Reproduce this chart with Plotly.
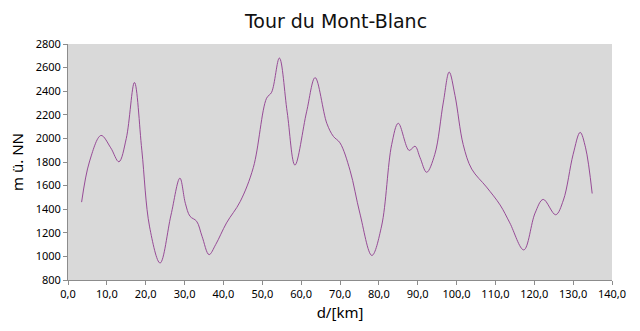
import plotly.graph_objects as go

# distance [km]
dist = [3.5, 5.5, 8.5, 11.0, 13.1, 15.0, 17.1, 19.0, 21.0, 23.7, 26.5, 28.8, 30.2, 31.4, 33.1, 34.5,
        36.3, 38.0, 40.8, 44.3, 47.7, 51.1, 52.4, 54.4, 56.4, 58.4, 61.4, 63.6, 66.6, 68.3, 70.0,
        72.6, 75.1, 78.2, 80.7, 83.3, 85.0, 87.8, 89.3, 90.6, 92.3, 94.4, 96.6, 98.1, 99.6, 101.7,
        103.9, 107.7, 111.2, 113.7, 117.3, 120.2, 122.3, 125.5, 127.5, 130.0, 131.8, 133.2, 134.9]
# elevation [m ü. NN]
elev = [1460, 1800, 2025, 1920, 1802, 2000, 2474, 1900, 1250, 944, 1350, 1663, 1450, 1340, 1298, 1170,
        1015, 1100, 1284, 1464, 1754, 2340, 2391, 2681, 2225, 1774, 2225, 2515, 2128, 2017, 1962,
        1727, 1367, 1008, 1257, 1948, 2128, 1898, 1934, 1837, 1713, 1865, 2308, 2562, 2363, 1948,
        1740, 1588, 1436, 1284, 1055, 1367, 1483, 1353, 1478, 1865, 2051, 1920, 1533]

x_ticks = [0, 10, 20, 30, 40, 50, 60, 70, 80, 90, 100, 110, 120, 130, 140]
y_ticks = [800, 1000, 1200, 1400, 1600, 1800, 2000, 2200, 2400, 2600, 2800]

fig = go.Figure()
fig.add_trace(go.Scatter(
    x=dist, y=elev, mode="lines",
    line=dict(color="#8e3b8e", width=0.9, shape="spline", smoothing=1.0),
    hoverinfo="skip", showlegend=False,
))

fig.update_layout(
    width=640, height=331,
    margin=dict(l=68, r=28, t=44, b=46),
    paper_bgcolor="white",
    plot_bgcolor="#d9d9d9",
    separators=",.",
    font=dict(family="Noto Sans, DejaVu Sans, sans-serif", color="#000000", size=11),
    title=dict(text="Tour du Mont-Blanc", x=0.525, xanchor="center", y=0.955, yanchor="top",
               font=dict(size=19, family="DejaVu Sans, sans-serif", color="#111111")),
    xaxis=dict(
        range=[0, 140], tickvals=x_ticks, tickformat=".1f",
        showgrid=False, zeroline=False,
        showline=True, linecolor="#8c8c8c", linewidth=1,
        ticks="outside", ticklen=4, tickcolor="#8c8c8c",
        title=dict(text="d/[km]", font=dict(size=15), standoff=7),
    ),
    yaxis=dict(
        range=[800, 2800], tickvals=y_ticks, tickformat="d",
        showgrid=False, zeroline=False,
        showline=True, linecolor="#8c8c8c", linewidth=1,
        ticks="outside", ticklen=4, tickcolor="#8c8c8c",
        title=dict(text="m ü. NN", font=dict(size=15), standoff=8),
    ),
)

fig.write_html("out.html")
